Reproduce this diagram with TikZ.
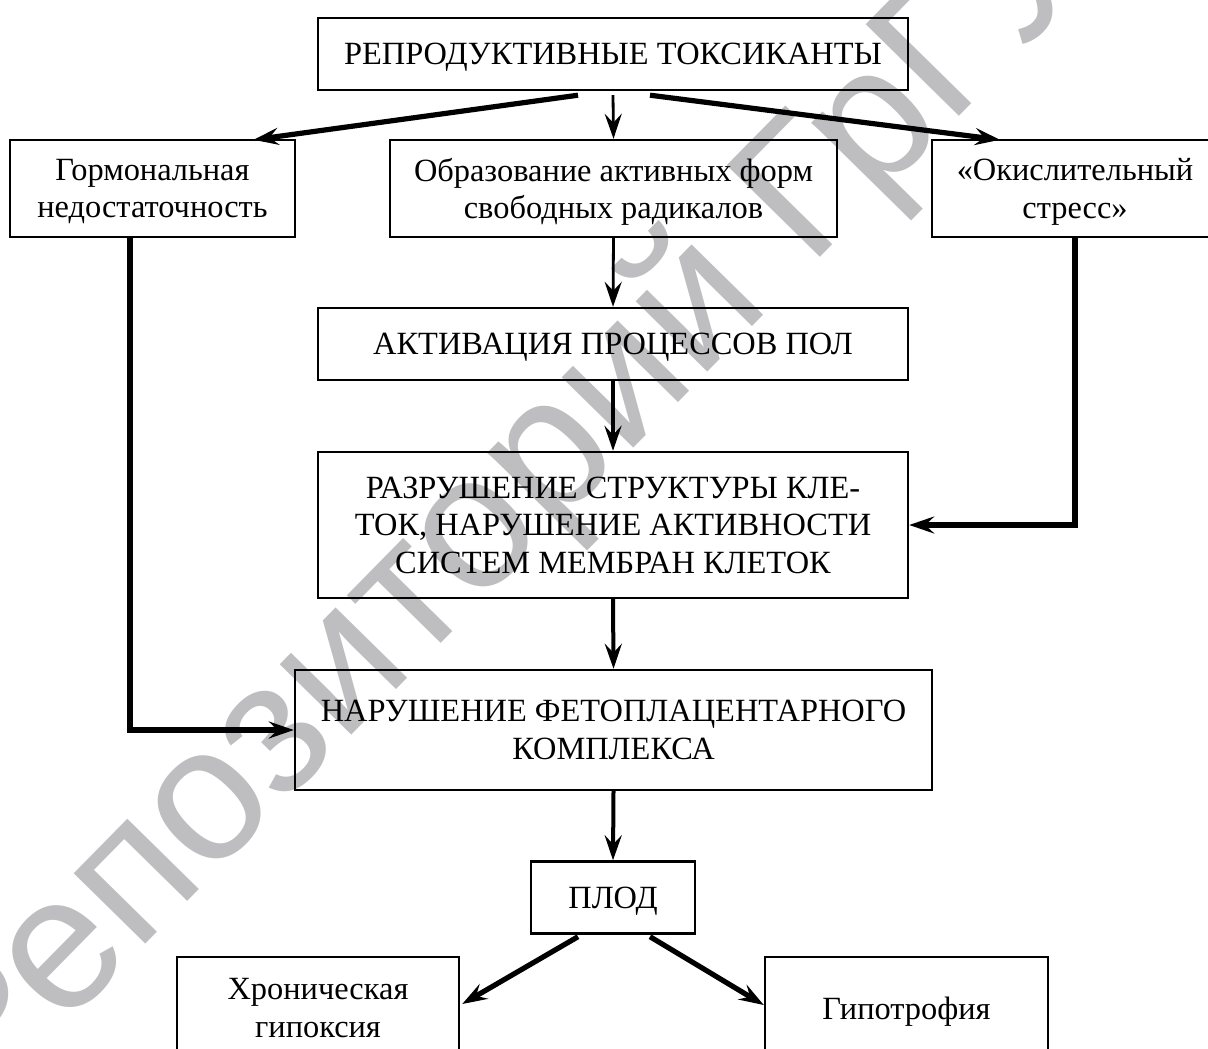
\documentclass[tikz,border=0pt]{standalone}
\usepackage{fontspec}
\setmainfont{Liberation Serif}
\newfontfamily\wmfont{Liberation Sans}
\usetikzlibrary{arrows.meta,calc}
\definecolor{wmgray}{RGB}{190,190,192}
\tikzset{
  box/.style={draw, line width=1.2pt, align=center, inner sep=0pt, text depth=0pt,
    font=\fontsize{16.2}{18.75}\selectfont},
  tipA/.style={-{Stealth[length=12.5pt,width=8.5pt,inset=4.5pt]}},
  thinarr/.style={tipA, line width=1.4pt},
  midarr/.style={tipA, line width=2pt},
  heavyarr/.style={tipA, line width=2.6pt},
}
\begin{document}
\begin{tikzpicture}[x=0.5pt,y=-0.5pt]
\useasboundingbox (0,0) rectangle (1208,1048);
\clip (0,0) rectangle (1208,1048);
% watermark
\node[anchor=base west, rotate=45.5, inner sep=0pt, text=wmgray,
  font=\wmfont\fontsize{95}{95}\selectfont] (wm) at (-21,1114) {Репозиторий ГрГУ};
% boxes
\node[box, minimum width=295pt, minimum height=36pt] (top) at (613,54) {РЕПРОДУКТИВНЫЕ ТОКСИКАНТЫ};
\node[box, minimum width=142.5pt, minimum height=48.5pt] (gorm) at (152.5,188.5) {Гормональная\\недостаточность};
\node[box, minimum width=223.5pt, minimum height=48.5pt] (obr) at (613.5,188.5) {Образование активных форм\\свободных радикалов};
\node[box, minimum width=143pt, minimum height=48.5pt] (oks) at (1075,188.5) {«Окислительный\\стресс»};
\node[box, minimum width=295pt, minimum height=36pt] (akt) at (613,344) {АКТИВАЦИЯ ПРОЦЕССОВ ПОЛ};
\node[box, minimum width=295pt, minimum height=73pt] (razr) at (613,525) {РАЗРУШЕНИЕ СТРУКТУРЫ КЛЕ-\\ТОК, НАРУШЕНИЕ АКТИВНОСТИ\\СИСТЕМ МЕМБРАН КЛЕТОК};
\node[box, minimum width=318.5pt, minimum height=60pt] (nar) at (613.5,730) {НАРУШЕНИЕ ФЕТОПЛАЦЕНТАРНОГО\\КОМПЛЕКСА};
\node[box, minimum width=82pt, minimum height=36pt] (plod) at (613,897.5) {ПЛОД};
\node[box, minimum width=141pt, minimum height=51pt] (hron) at (318,1008) {Хроническая\\гипоксия};
\node[box, minimum width=141.5pt, minimum height=51pt] (gipo) at (906.5,1008) {Гипотрофия};
% connectors
\draw[heavyarr] ($(top.south)+(-35,4)$) -- ($(gorm.north)+(101,1)$);
\draw[thinarr] ($(top.south)+(0,4)$) -- (obr.north);
\draw[heavyarr] ($(top.south)+(37,4)$) -- ($(oks.north)+(-75,1)$);
\draw[thinarr] (obr.south) -- (akt.north);
\draw[midarr] (akt.south) -- (razr.north);
\draw[heavyarr] (oks.south) |- (razr.east);
\draw[midarr] (razr.south) -- (nar.north);
\draw[heavyarr] ($(gorm.south)+(-22.5,0)$) |- (nar.west);
\draw[midarr] (nar.south) -- (plod.north);
\draw[heavyarr] ($(plod.south)+(-35,2)$) -- ($(hron.east)+(2,-4)$);
\draw[heavyarr] ($(plod.south)+(37,2)$) -- ($(gipo.west)+(0,-3)$);
\end{tikzpicture}
\end{document}
